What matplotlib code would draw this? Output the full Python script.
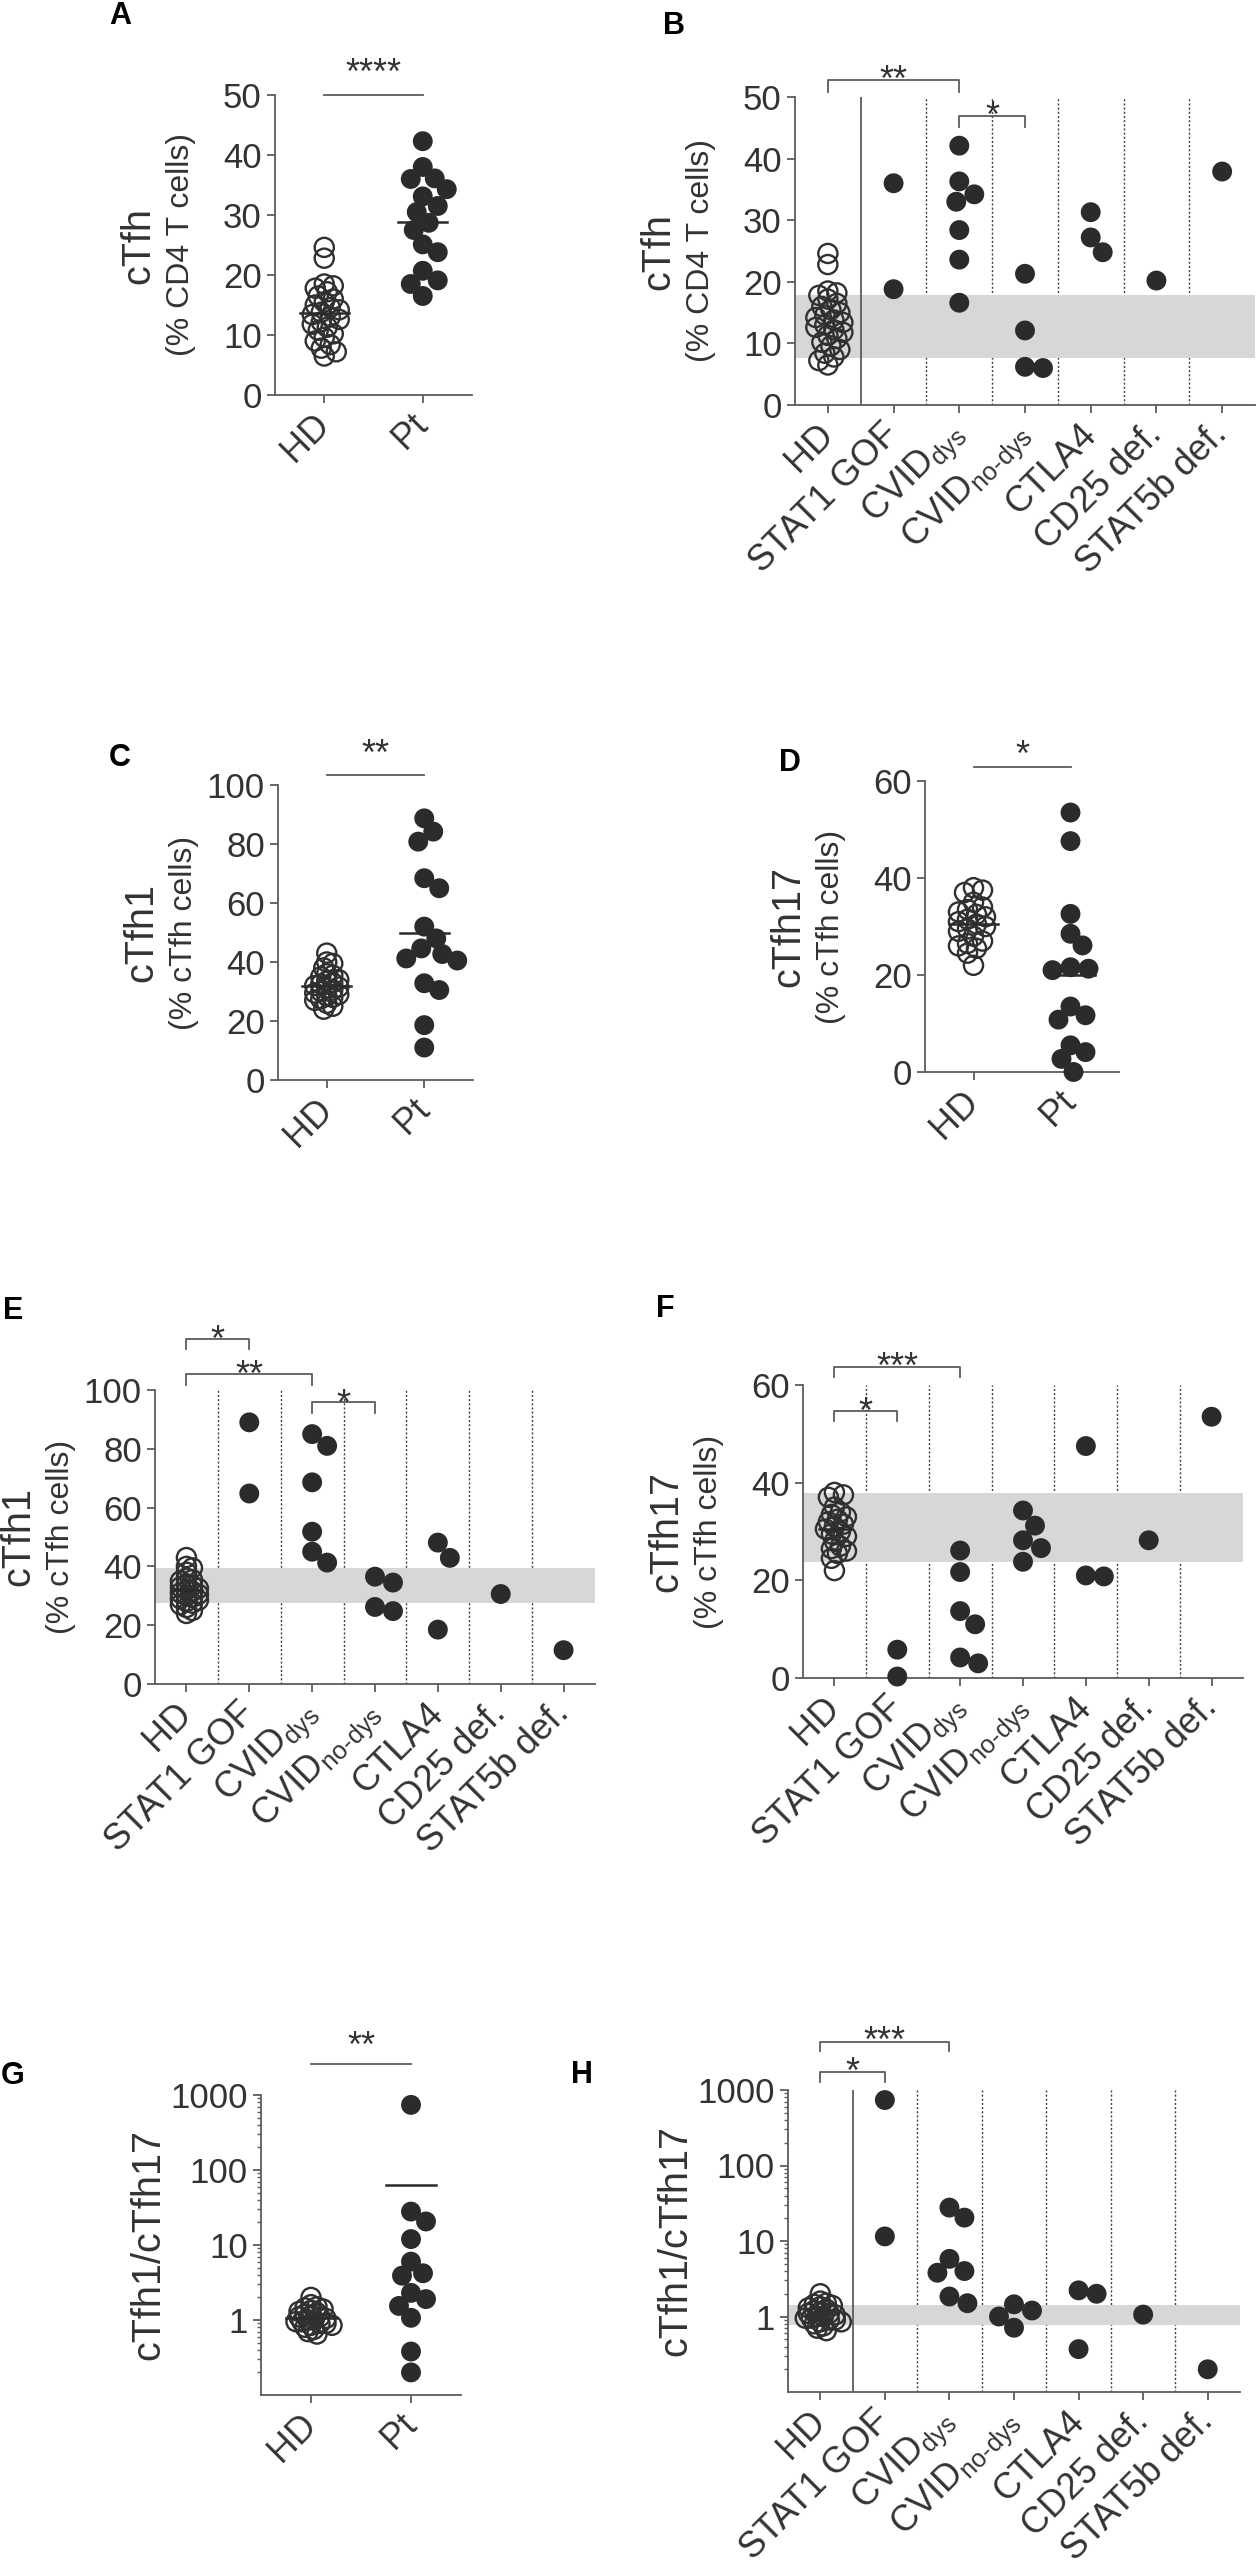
import numpy as np
import matplotlib
matplotlib.use('Agg')
import matplotlib.pyplot as plt
from matplotlib.ticker import LogLocator, NullFormatter

plt.rcParams['font.family'] = ['Liberation Sans', 'DejaVu Sans']
plt.rcParams['mathtext.fontset'] = 'custom'
plt.rcParams['mathtext.rm'] = 'Liberation Sans'
plt.rcParams['mathtext.it'] = 'Liberation Sans:italic'
plt.rcParams['mathtext.bf'] = 'Liberation Sans:bold'

# ---------------- data ----------------
groups = ['HD', 'STAT1 GOF', r'CVID$_{\text{dys}}$', r'CVID$_{\text{no-dys}}$',
          'CTLA4', 'CD25 def.', 'STAT5b def.']
two_groups = ['HD', 'Pt']

# healthy donors
hd_tfh = [24.6, 22.8, 18.5, 18.2, 17.8, 17.2, 16.5, 16.0, 15.5, 15.0, 14.6, 14.2,
          13.8, 13.4, 13.0, 12.6, 12.2, 11.8, 11.3, 10.8, 10.2, 9.6, 9.0, 8.4, 7.8, 7.2, 6.5]
hd_tfh1 = [43, 40, 39.5, 38, 36, 35.5, 35, 34, 33.5, 33, 32.5, 32, 31.5, 31, 30.5,
           30, 29.5, 29, 28.5, 28, 27.5, 27, 26, 25, 24]
hd_tfh17 = [38, 37.5, 37, 35, 34, 33.5, 33, 32.5, 32, 31.5, 31, 30.5, 30, 29.5, 29,
            28, 27, 26.5, 26, 25.5, 24.5, 22]
hd_ratio = [2.0, 1.6, 1.5, 1.45, 1.4, 1.35, 1.3, 1.25, 1.2, 1.15, 1.1, 1.1, 1.05, 1.0,
            1.0, 0.95, 0.95, 0.9, 0.9, 0.85, 0.85, 0.8, 0.75, 0.7, 0.65]

# patients, pooled
pt_tfh = [42.3, 38.0, 36.1, 36.0, 34.3, 33.1, 31.5, 30.5, 28.7, 27.5, 25.1, 23.8,
          20.7, 19.1, 18.5, 16.5]
pt_tfh1 = [88.7, 84.2, 80.8, 68.4, 65.0, 52.0, 48.0, 44.6, 42.7, 41.2, 40.5, 32.8,
           30.5, 18.6, 11.0]
pt_tfh17 = [53.5, 47.6, 32.6, 28.5, 26.1, 21.6, 21.3, 21.0, 13.5, 11.7, 10.8, 5.5,
            4.1, 2.7, 0.0]
pt_ratio = [738, 27.9, 20.6, 12.0, 6.0, 4.2, 3.9, 2.3, 1.9, 1.54, 1.07, 0.38, 0.20]

# patients by diagnosis (STAT1 GOF, CVIDdys, CVIDno-dys, CTLA4, CD25, STAT5b)
grp_tfh = [[36.0, 18.8],
           [42.1, 36.3, 34.2, 33.0, 28.4, 23.6, 16.6],
           [21.3, 12.1, 6.2, 6.0],
           [31.3, 27.2, 24.8],
           [20.2],
           [37.9]]
grp_tfh1 = [[89.0, 64.8],
            [85.0, 81.0, 68.6, 51.8, 45.0, 41.3],
            [36.5, 34.5, 26.2, 24.8],
            [48.1, 42.9, 18.5],
            [30.6],
            [11.5]]
grp_tfh17 = [[5.8, 0.3],
             [26.1, 21.7, 13.7, 11.0, 4.2, 3.0],
             [34.3, 31.2, 28.2, 26.6, 23.8],
             [47.5, 21.0, 20.8],
             [28.2],
             [53.5]]
grp_ratio = [[736, 11.5],
             [27.7, 20.4, 5.8, 4.0, 3.8, 1.84, 1.5],
             [1.45, 1.2, 1.0, 0.71],
             [2.22, 2.0, 0.37],
             [1.06],
             [0.20]]

# HD reference ranges (grey bands)
band_tfh = (7.7, 17.9)
band_tfh1 = (27.4, 39.6)
band_tfh17 = (23.8, 37.9)
band_ratio = (0.76, 1.40)

# ---------------- style ----------------
W, H = 1257, 2575
TXT = '#333333'
AXC = '#5c5c5c'
DOT = '#2b2b2b'
BAND = '#d6d7d9'
fs_tick = 25
fs_cat = 26
fs_lab = 28.5
fs_sub = 23
fs_star = 26
fs_letter = 22

fig = plt.figure(figsize=(W / 100, H / 100), dpi=100)


def ax_at(l, r, t, b):
    return fig.add_axes([l / W, 1 - b / H, (r - l) / W, (b - t) / H])


def ftext(x, y, s, **kw):
    fig.text(x / W, 1 - y / H, s, **kw)


def style(ax):
    for s in ['top', 'right']:
        ax.spines[s].set_visible(False)
    for s in ['left', 'bottom']:
        ax.spines[s].set_color(AXC)
        ax.spines[s].set_linewidth(1.3)
    ax.tick_params(which='major', length=5.5, width=1.3, color=AXC,
                   labelcolor=TXT, labelsize=fs_tick, pad=4)
    ax.tick_params(which='minor', length=3, width=1.0, color=AXC)
    ax.patch.set_visible(False)


def swarm_x(ax, xc, vals, gap, step=3.0):
    vals = np.asarray(vals, float)
    disp = ax.transData.transform(np.column_stack([np.full(len(vals), xc), vals]))
    offsets = [0]
    for j in range(1, 80):
        offsets += [j, -j]
    placed = []
    out = np.empty(len(vals))
    for i in np.argsort(-vals):
        px, py = disp[i]
        for k in offsets:
            cx = px + k * step
            if all((cx - qx) ** 2 + (py - qy) ** 2 >= gap ** 2 for qx, qy in placed):
                break
        placed.append((cx, py))
        out[i] = cx
    return ax.transData.inverted().transform(np.column_stack([out, disp[:, 1]]))[:, 0]


def dots(ax, xc, vals, gap=17, hd=False):
    xs = swarm_x(ax, xc, vals, gap)
    if hd:
        ax.scatter(xs, vals, s=190, facecolors='none', edgecolors='#303030',
                   linewidths=1.7, zorder=4, clip_on=False)
    else:
        ax.scatter(xs, vals, s=205, color=DOT, edgecolors='none', zorder=4, clip_on=False)


def mean_line(ax, xc, vals, half=0.25):
    m = np.mean(vals)
    ax.plot([xc - half, xc + half], [m, m], color=DOT, lw=1.8, zorder=5)


def star(ax, x, y, s):
    ax.annotate(s, xy=(x, y), xytext=(0, -0.58 * fs_star), textcoords='offset points',
                ha='center', va='baseline', fontsize=fs_star, color=TXT,
                annotation_clip=False)


def sig_line(ax, x0, x1, y, stars, ystar):
    ax.plot([x0, x1], [y, y], color=AXC, lw=1.3, clip_on=False)
    star(ax, (x0 + x1) / 2, ystar, stars)


def bracket(ax, x0, x1, ytop, yleg, stars, ystar):
    ax.plot([x0, x0, x1, x1], [yleg, ytop, ytop, yleg], color=AXC, lw=1.3, clip_on=False)
    star(ax, (x0 + x1) / 2, ystar, stars)


def ylabels(box, main, sub=None):
    left, top, bot = box[0], box[2], box[3]
    yc = (top + bot) / 2
    if sub is None:
        ftext(left - 113, yc, main, rotation=90, ha='center', va='center',
              fontsize=fs_lab, color=TXT)
    else:
        ftext(left - 137, yc, main, rotation=90, ha='center', va='center',
              fontsize=fs_lab, color=TXT)
        ftext(left - 94, yc, sub, rotation=90, ha='center', va='center',
              fontsize=fs_sub, color=TXT)


def xcat(ax, labels):
    ax.set_xticks(range(len(labels)))
    ax.set_xticklabels(labels, rotation=45, ha='right', va='center',
                       rotation_mode='anchor', fontsize=fs_cat)
    ax.tick_params(axis='x', pad=12)


def log_axis(ax):
    ax.set_yscale('log')
    ax.set_ylim(0.1, 1000)
    ax.set_yticks([1, 10, 100, 1000])
    ax.set_yticklabels(['1', '10', '100', '1000'])
    ax.yaxis.set_minor_locator(LogLocator(base=10, subs=np.arange(2, 10), numticks=30))
    ax.yaxis.set_minor_formatter(NullFormatter())


def two_panel(box, hd, pt, ylim, yticks, log=False, gap_hd=7, gap_pt=16):
    ax = ax_at(*box)
    style(ax)
    ax.set_xlim(-0.5, 1.5)
    if log:
        log_axis(ax)
    else:
        ax.set_ylim(*ylim)
        ax.set_yticks(yticks)
    xcat(ax, two_groups)
    dots(ax, 0, hd, gap=gap_hd, hd=True)
    dots(ax, 1, pt, gap=gap_pt)
    if log:
        gm = 10 ** np.mean(np.log10(hd))
        ax.plot([-0.25, 0.25], [gm, gm], color=DOT, lw=1.8, zorder=5)
    else:
        mean_line(ax, 0, hd)
    mean_line(ax, 1, pt)
    return ax


def group_panel(box, hd, grp, band, ylim, yticks, first_solid, log=False, gap_hd=7):
    ax = ax_at(*box)
    style(ax)
    ax.set_xlim(-0.5, 6.5)
    if log:
        log_axis(ax)
    else:
        ax.set_ylim(*ylim)
        ax.set_yticks(yticks)
    xcat(ax, groups)
    ax.axhspan(band[0], band[1], color=BAND, lw=0, zorder=1.5)
    for k in range(1, 6):
        ax.axvline(k + 0.5, color='#404040', lw=1.0, ls=(0, (1.5, 1.5)), zorder=1)
    if first_solid:
        ax.axvline(0.5, color=AXC, lw=1.3, zorder=2)
    else:
        ax.axvline(0.5, color='#404040', lw=1.0, ls=(0, (1.5, 1.5)), zorder=1)
    dots(ax, 0, hd, gap=gap_hd, hd=True)
    for i, vals in enumerate(grp):
        dots(ax, i + 1, vals, gap=18)
    return ax


# ---------------- A ----------------
boxA = (275, 472, 95, 395)
axA = two_panel(boxA, hd_tfh, pt_tfh, (0, 50), range(0, 51, 10), gap_hd=8)
sig_line(axA, 0, 1, 50, '****', 55.3)
ylabels(boxA, 'cTfh', '(% CD4 T cells)')

# ---------------- B ----------------
boxB = (795, 1255, 97, 405)
axB = group_panel(boxB, hd_tfh, grp_tfh, band_tfh, (0, 50), range(0, 51, 10), True, gap_hd=8)
bracket(axB, 0, 2, 52.7, 50.8, '**', 54.4)
bracket(axB, 2, 3, 46.9, 45.1, '*', 48.5)
ylabels(boxB, 'cTfh', '(% CD4 T cells)')

# ---------------- C ----------------
boxC = (278, 473, 785, 1080)
axC = two_panel(boxC, hd_tfh1, pt_tfh1, (0, 100), range(0, 101, 20), gap_hd=6)
sig_line(axC, 0, 1, 103.4, '**', 114)
ylabels(boxC, 'cTfh1', '(% cTfh cells)')

# ---------------- D ----------------
boxD = (925, 1119, 781, 1072)
axD = two_panel(boxD, hd_tfh17, pt_tfh17, (0, 60), range(0, 61, 20), gap_hd=9)
sig_line(axD, 0, 1, 62.9, '*', 67.4)
ylabels(boxD, 'cTfh17', '(% cTfh cells)')

# ---------------- E ----------------
boxE = (155, 595, 1390, 1684)
axE = group_panel(boxE, hd_tfh1, grp_tfh1, band_tfh1, (0, 100), range(0, 101, 20), False, gap_hd=5)
mean_line(axE, 0, hd_tfh1)
bracket(axE, 0, 1, 117.4, 114, '*', 120.4)
bracket(axE, 0, 2, 105.4, 101.7, '**', 108.5)
bracket(axE, 2, 3, 95.9, 92.2, '*', 98.6)
ylabels(boxE, 'cTfh1', '(% cTfh cells)')

# ---------------- F ----------------
boxF = (803, 1243, 1385, 1678)
axF = group_panel(boxF, hd_tfh17, grp_tfh17, band_tfh17, (0, 60), range(0, 61, 20), False, gap_hd=7)
mean_line(axF, 0, hd_tfh17)
bracket(axF, 0, 2, 63.7, 61.6, '***', 65.8)
bracket(axF, 0, 1, 54.7, 52.6, '*', 56.5)
ylabels(boxF, 'cTfh17', '(% cTfh cells)')

# ---------------- G ----------------
boxG = (261, 461, 2095, 2395)
axG = two_panel(boxG, hd_ratio, pt_ratio, None, None, log=True, gap_hd=5)
sig_line(axG, 0, 1, 10 ** 3.41, '**', 10 ** 3.79)
ylabels(boxG, 'cTfh1/cTfh17')

# ---------------- H ----------------
boxH = (788, 1240, 2090, 2392)
axH = group_panel(boxH, hd_ratio, grp_ratio, band_ratio, None, None, True, log=True, gap_hd=5)
bracket(axH, 0, 2, 10 ** 3.637, 10 ** 3.518, '***', 10 ** 3.78)
bracket(axH, 0, 1, 10 ** 3.239, 10 ** 3.106, '*', 10 ** 3.372)
ylabels(boxH, 'cTfh1/cTfh17')

# ---------------- panel letters ----------------
for letter, (x, y) in zip('ABCDEFGH', [(120, 16), (674, 26), (120, 758), (790, 763),
                                      (13, 1311), (665, 1309), (13, 2076), (582, 2075)]):
    ftext(x, y, letter, ha='center', va='center', fontsize=fs_letter,
          fontweight='bold', color='black')

fig.savefig('out.png', dpi=100)
